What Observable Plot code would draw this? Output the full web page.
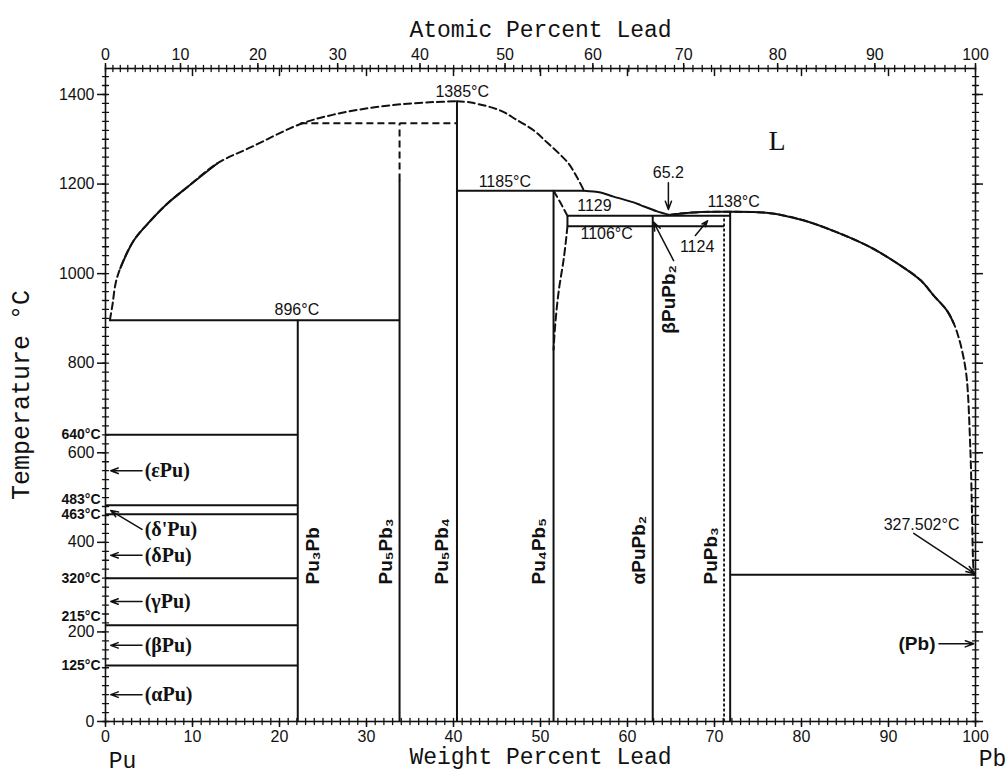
<!DOCTYPE html>
<html><head><meta charset="utf-8">
<script src="https://cdn.jsdelivr.net/npm/d3@7"></script>
<script src="https://cdn.jsdelivr.net/npm/@observablehq/plot@0.6"></script>
<style>
html,body{margin:0;padding:0;background:#fff;}
#chart{width:1008px;height:779px;overflow:hidden;}
</style></head>
<body><div id="chart"></div>
<script>
// ---- atomic masses for the top (atomic %) axis ----
const M_PB = 207.2, M_PU = 244;
const toWt = a => 100 * a * M_PB / (a * M_PB + (100 - a) * M_PU);

// ---- axis ticks ----
const atomicTicks = [0,10,20,30,40,50,60,70,80,90,100];
const atomicMinor = d3.range(0, 101, 1);
const wtMajor = [0,10,20,30,40,50,60,70,80,90,100];
const wtMinor = d3.range(0, 101, 1);
const tempMajor = [0,200,400,600,800,1000,1200,1400];
const tempMinor = d3.range(0, 1451, 20);
const tempMax = 1458;

// ---- Pu allotropic transitions (°C) ----
const puTransitions = [640, 483, 463, 320, 215, 125];

// ---- compounds: label, composition (wt% Pb), top temperature ----
const compoundNames = ["Pu₃Pb","Pu₅Pb₃","Pu₅Pb₄","Pu₄Pb₅","αPuPb₂","PuPb₃"];
const compoundWt    = [22.1, 33.8, 40.4, 51.5, 62.9, 71.8];
const compoundTop   = [896, 1208, 1385, 1185, 1129, 1138];
const compoundLabelWt = [23.8, 32.2, 38.7, 49.8, 61.3, 69.6];

// ---- invariant (horizontal) lines ----
const invariantT    = [896, 1185, 1129, 1106, 327.502];
const invariantFrom = [0.5, 40.4, 53.1, 53.1, 71.8];
const invariantTo   = [33.8, 55.0, 71.8, 71.1, 100];

// dashed peritectic + dashed Pu5Pb3 top, dotted PuPb3 boundary
const peritecticT = 1336, peritecticFrom = 22.4, peritecticTo = 40.4;
const pu5pb3DashFrom = 1208;
const pupb3DottedWt = 71.1, pupb3DottedTop = 1129;
const bracketWt = 53.1, bracketLow = 1106, bracketHigh = 1129;

// ---- curves [wt% Pb, °C] ----
// Pu-side liquidus up to the Pu5Pb4 maximum (solid between 1.7 and 12.84 wt%)
const liqPuSide = [[0.5,896],[0.8,930],[1.15,977],[1.7,1012],[3.25,1074],[5.17,1118],[7.09,1156],[9.39,1193],[12.84,1246],[16.8,1283],[22.4,1334],[26.2,1355],[30.1,1369],[33.9,1378],[37.7,1383],[40.4,1385]];
const liqPuSolidRange = [1.7, 12.84];
const liqDomeRight  = [[40.4,1385],[42.0,1382],[45.4,1364],[47.2,1344],[49.2,1320],[50.8,1292],[52.3,1265],[53.3,1244],[54.2,1215],[55.0,1185]];
const liqMid        = [[55.0,1185],[56.9,1181],[58.4,1172],[60.7,1159],[61.5,1153],[63.4,1139],[64.8,1131]];
// Pb-side liquidus from the eutectic to Pb (solid up to 97.5 wt%)
const liqPbSide = [[64.8,1131],[66.5,1135],[68.5,1137.5],[71.8,1138],[76.4,1135],[80.2,1119],[84.1,1092],[87.9,1059],[91.7,1014],[93.7,985],[95.2,951],[96.7,918],[97.5,889],[98.1,855],[98.6,815],[99.0,765],[99.4,612],[99.6,464],[99.7,370],[99.8,327.5]];
const liqPbSolidEnd = 97.5;
const solvusUpper   = [[51.5,1185],[52.3,1158],[53.1,1129]];
const solvusLower   = [[53.1,1106],[52.7,1037],[52.1,962],[51.7,888],[51.5,830]];

// ---- temperature labels on the Pu axis ----
const puTempLabels = ["640°C","483°C","463°C","320°C","215°C","125°C"];

// ---- phase labels with arrows to the Pu axis ----
const phaseNames = ["(εPu)","(δ'Pu)","(δPu)","(γPu)","(βPu)","(αPu)"];
const phaseT     = [560, 429, 371, 268, 170, 60];
const phaseTipT  = [560, 471, 371, 268, 170, 60];

// ---- annotation labels ----
const annotText = ["1385°C","1185°C","1129","1106°C","896°C","65.2","1138°C","1124","327.502°C"];
const annotWt   = [41.0, 45.9, 56.2, 57.6, 22.0, 64.7, 72.2, 68.0, 93.8];
const annotT    = [1405, 1204, 1152, 1089, 918, 1224, 1161, 1059, 438];

// ---- annotation arrows ----
const arrowX1 = [64.7, 67.8, 65.3, 92.9, 95.8];
const arrowY1 = [1203, 1085, 1029, 420, 173.5];
const arrowX2 = [64.7, 69.2, 63.0, 99.9, 99.8];
const arrowY2 = [1143, 1118, 1115, 330, 173.5];

const topTickWt = atomicTicks.map(toWt);
const topLabel = new Map(topTickWt.map((w, i) => [w, String(atomicTicks[i])]));

const INK = "#111";
const SANS = "Liberation Sans, Arial, sans-serif";
const MONO = "Liberation Mono, Courier New, monospace";
const SERIF = "Liberation Serif, Times New Roman, serif";
const lw = 2;
const dash = "7,4";
const curve = "catmull-rom";
const tickShape = {draw(context, l) { context.moveTo(0, 0); context.lineTo(0, -l); }};
const minorTick = {length: 6, anchor: "middle", shape: tickShape, stroke: INK, strokeWidth: 1.3};

const chart = Plot.plot({
  width: 1008, height: 779,
  marginLeft: 105, marginRight: 33, marginTop: 68, marginBottom: 58,
  style: {background: "#fff", color: INK, fontFamily: SANS},
  x: {domain: [0, 100]},
  y: {domain: [0, tempMax]},
  marks: [
    Plot.frame({stroke: INK, strokeWidth: 1.6}),
    // minor ticks (crossing the frame)
    Plot.vector(wtMinor, {x: d => d, y: () => 0, ...minorTick}),
    Plot.vector(atomicMinor, {x: d => toWt(d), y: () => tempMax, ...minorTick}),
    Plot.vector(tempMinor, {x: () => 0, y: d => d, rotate: 90, ...minorTick}),
    Plot.vector(tempMinor, {x: () => 100, y: d => d, rotate: 90, ...minorTick}),
    // inward ticks at 10 wt% along the top
    Plot.vector(wtMajor.slice(1, -1), {x: d => d, y: () => tempMax, rotate: 180, length: 7, anchor: "start", shape: tickShape, stroke: INK, strokeWidth: 1.5}),
    // major axes
    Plot.axisX({anchor: "bottom", ticks: wtMajor, tickSize: 6, tickPadding: 3, tickFormat: d => String(d), fontSize: 16, label: null, strokeWidth: 1.5}),
    Plot.axisX({anchor: "top", ticks: topTickWt, tickSize: 6, tickPadding: 3, tickFormat: d => topLabel.get(d), fontSize: 16, label: null, strokeWidth: 1.5}),
    Plot.axisY({anchor: "left", ticks: tempMajor, tickSize: 8, tickPadding: 3, tickFormat: d => String(d), fontSize: 16, label: null, strokeWidth: 1.5}),
    Plot.axisY({anchor: "right", ticks: tempMajor, tickSize: 7, tickFormat: () => "", label: null, strokeWidth: 1.5}),

    // compounds
    Plot.ruleX(compoundWt, {x: d => d, y1: () => 0, y2: (d, i) => compoundTop[i], stroke: INK, strokeWidth: lw}),
    // Pu transitions
    Plot.ruleY(puTransitions, {y: d => d, x1: () => 0, x2: () => compoundWt[0], stroke: INK, strokeWidth: lw}),
    // invariants
    Plot.link(invariantT, {x1: (d, i) => invariantFrom[i], x2: (d, i) => invariantTo[i], y1: d => d, y2: d => d, stroke: INK, strokeWidth: lw}),
    Plot.link([bracketWt], {x1: d => d, x2: d => d, y1: () => bracketLow, y2: () => bracketHigh, stroke: INK, strokeWidth: lw}),
    Plot.link([peritecticT], {x1: () => peritecticFrom, x2: () => peritecticTo, y1: d => d, y2: d => d, stroke: INK, strokeWidth: lw, strokeDasharray: dash}),
    Plot.link([compoundWt[1]], {x1: d => d, x2: d => d, y1: () => pu5pb3DashFrom, y2: () => peritecticT, stroke: INK, strokeWidth: lw, strokeDasharray: dash}),
    Plot.link([pupb3DottedWt], {x1: d => d, x2: d => d, y1: () => 0, y2: () => pupb3DottedTop, stroke: INK, strokeWidth: 1.8, strokeDasharray: "3,2"}),

    // curves: full dashed curve, solid stretch drawn over it
    Plot.line(liqPuSide, {stroke: INK, strokeWidth: lw, strokeDasharray: dash, curve}),
    Plot.line(liqPuSide, {filter: d => d[0] >= liqPuSolidRange[0] && d[0] <= liqPuSolidRange[1], stroke: INK, strokeWidth: lw, curve}),
    Plot.line(liqDomeRight, {stroke: INK, strokeWidth: lw, strokeDasharray: dash, curve}),
    Plot.line(liqMid, {stroke: INK, strokeWidth: lw, curve}),
    Plot.line(liqPbSide, {stroke: INK, strokeWidth: lw, strokeDasharray: dash, curve}),
    Plot.line(liqPbSide, {filter: d => d[0] <= liqPbSolidEnd, stroke: INK, strokeWidth: lw, curve}),
    Plot.line(solvusUpper, {stroke: INK, strokeWidth: lw, strokeDasharray: dash, curve}),
    Plot.line(solvusLower, {stroke: INK, strokeWidth: lw, strokeDasharray: dash, curve}),

    // compound labels (vertical)
    Plot.text(compoundNames, {x: (d, i) => compoundLabelWt[i], y: () => 306, rotate: -90, textAnchor: "start", fontSize: 19, fontWeight: "bold", fontFamily: SANS, fill: INK}),
    Plot.text(["βPuPb₂"], {x: () => 64.8, y: () => 866, rotate: -90, textAnchor: "start", fontSize: 19, fontWeight: "bold", fontFamily: SANS, fill: INK}),

    // temperature labels on Pu side
    Plot.text(puTempLabels, {filter: (d, i) => i !== 1 && i !== 4, x: () => 0, y: (d, i) => puTransitions[i], dx: -5, textAnchor: "end", fontSize: 14, fontWeight: "bold", fill: INK}),
    Plot.text(puTempLabels, {filter: (d, i) => i === 1, x: () => 0, y: (d, i) => puTransitions[i], dx: -5, dy: -6, textAnchor: "end", fontSize: 14, fontWeight: "bold", fill: INK}),
    Plot.text(puTempLabels, {filter: (d, i) => i === 4, x: () => 0, y: (d, i) => puTransitions[i], dx: -5, dy: -9, textAnchor: "end", fontSize: 14, fontWeight: "bold", fill: INK}),

    // phase labels
    Plot.text(phaseNames, {x: () => 4.5, y: (d, i) => phaseT[i], textAnchor: "start", fontSize: 20, fontWeight: "bold", fontFamily: SERIF, fill: INK}),
    Plot.arrow(phaseNames, {x1: () => 4.2, y1: (d, i) => phaseT[i], x2: () => 0.6, y2: (d, i) => phaseTipT[i], stroke: INK, strokeWidth: 1.5, headLength: 8, headAngle: 40}),
    Plot.text(["(Pb)"], {x: () => 95.4, y: () => 173.5, textAnchor: "end", fontSize: 19, fontWeight: "bold", fontFamily: SANS, fill: INK}),

    // annotations
    Plot.text(annotText, {x: (d, i) => annotWt[i], y: (d, i) => annotT[i], fontSize: 16, fill: INK}),
    Plot.arrow(arrowX1, {x1: d => d, y1: (d, i) => arrowY1[i], x2: (d, i) => arrowX2[i], y2: (d, i) => arrowY2[i], stroke: INK, strokeWidth: 1.5, headLength: 9, headAngle: 40}),
    Plot.text(["L"], {x: () => 77.2, y: () => 1297, fontSize: 28, fontFamily: SERIF, fill: INK}),

    // axis titles and end labels
    Plot.text(["Atomic Percent Lead"], {frameAnchor: "top", dy: -48, fontSize: 23, fontFamily: MONO, fill: INK}),
    Plot.text(["Weight Percent Lead"], {frameAnchor: "bottom", dy: 42, fontSize: 23, fontFamily: MONO, fill: INK}),
    Plot.text(["Temperature °C"], {frameAnchor: "left", textAnchor: "middle", dx: -85, rotate: -90, fontSize: 25, fontFamily: MONO, fill: INK}),
    Plot.text(["Pu"], {frameAnchor: "bottom-left", textAnchor: "middle", dx: 17, dy: 46, fontSize: 23, fontFamily: MONO, fill: INK}),
    Plot.text(["Pb"], {frameAnchor: "bottom-right", textAnchor: "middle", dx: 17, dy: 44, fontSize: 23, fontFamily: MONO, fill: INK})
  ]
});
document.getElementById("chart").append(chart);
</script>
</body></html>
